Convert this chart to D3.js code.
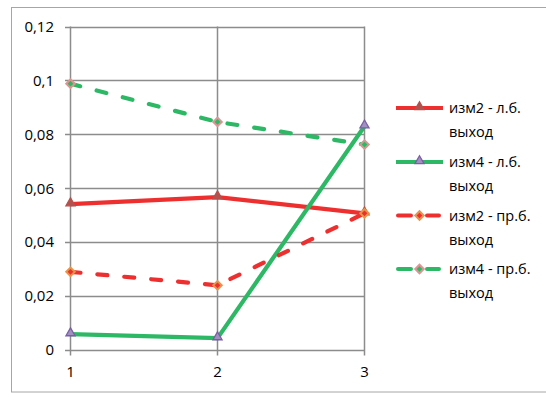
<!DOCTYPE html>
<html>
<head>
<meta charset="utf-8">
<script src="https://cdn.jsdelivr.net/npm/d3@7"></script>
<style>
  html, body { margin: 0; padding: 0; background: #fff; }
  svg { display: block; }
  text { font-family: "Open Sans", "Noto Sans", sans-serif; fill: #000; }
</style>
</head>
<body>
<svg id="chart" width="546" height="394"></svg>
<script>
// Measurement points along the x axis
const categories = [1, 2, 3];

// Series values
const izm2Left  = [0.0541, 0.0567, 0.0507];
const izm4Left  = [0.0059, 0.0044, 0.0830];
const izm2Right = [0.0290, 0.0240, 0.0507];
const izm4Right = [0.0988, 0.0846, 0.0762];

const seriesNames = [
  ["изм2 - л.б.", "выход"],
  ["изм4 - л.б.", "выход"],
  ["изм2 - пр.б.", "выход"],
  ["изм4 - пр.б.", "выход"]
];

// Y tick values and their labels
const yTicks = [0, 0.02, 0.04, 0.06, 0.08, 0.1, 0.12];
const yTickLabels = ["0", "0,02", "0,04", "0,06", "0,08", "0,1", "0,12"];

const series = [
  { name: seriesNames[0], values: izm2Left,  color: "#ee2f2f", dashed: false, marker: "triangle", mFill: "#b5514d", mStroke: "#b5514d" },
  { name: seriesNames[1], values: izm4Left,  color: "#2db865", dashed: false, marker: "triangle", mFill: "#a090c0", mStroke: "#7b5fa5" },
  { name: seriesNames[2], values: izm2Right, color: "#ee2f2f", dashed: true,  marker: "diamond",  mFill: "#ee2f2f", mStroke: "#e8944a" },
  { name: seriesNames[3], values: izm4Right, color: "#2db865", dashed: true,  marker: "diamond",  mFill: "#2db865", mStroke: "#d99694" }
];

const svg = d3.select("#chart");

// Chart frame
svg.append("rect")
  .attr("x", 11.5).attr("y", 7.5)
  .attr("width", 560).attr("height", 384.5)
  .attr("fill", "#fff").attr("stroke", "#a6a6a6").attr("stroke-width", 1);

const x = d3.scalePoint().domain(categories).range([70.5, 364.5]);
const y = d3.scaleLinear().domain([0, 0.12]).range([350, 26.5]);

const grid = svg.append("g");

// Horizontal gridlines with left tick stubs
grid.selectAll("line.h").data(yTicks).join("line")
  .attr("x1", 65).attr("x2", x(3))
  .attr("y1", d => Math.round(y(d)) + 0.5).attr("y2", d => Math.round(y(d)) + 0.5)
  .attr("stroke", "#8c8c8c").attr("stroke-width", 1.5);

// Vertical gridlines per category with bottom tick stubs
grid.selectAll("line.v").data(categories).join("line")
  .attr("x1", d => x(d)).attr("x2", d => x(d))
  .attr("y1", y(0.12)).attr("y2", 355.5)
  .attr("stroke", "#8c8c8c").attr("stroke-width", 1.5);

// Y axis labels
svg.append("g").selectAll("text").data(yTicks).join("text")
  .attr("x", 54).attr("y", d => y(d))
  .attr("dy", "0.35em")
  .attr("text-anchor", "end")
  .attr("font-size", 15)
  .text((d, i) => yTickLabels[i]);

// X axis labels
svg.append("g").selectAll("text").data(categories).join("text")
  .attr("x", d => x(d)).attr("y", 372)
  .attr("dy", "0.35em")
  .attr("text-anchor", "middle")
  .attr("font-size", 15)
  .text(d => d);

const line = d3.line().x((d, i) => x(categories[i])).y(d => y(d));

const triangle = d3.symbol().type(d3.symbolTriangle).size(36);
const diamond = d3.symbol().type(d3.symbolSquare).size(36);

function drawMarker(g, s, cx, cy) {
  if (s.marker === "triangle") {
    g.append("path").attr("d", triangle())
      .attr("transform", `translate(${cx},${cy - 1})`)
      .attr("fill", s.mFill).attr("stroke", s.mStroke).attr("stroke-width", 1.3);
  } else {
    g.append("path").attr("d", diamond())
      .attr("transform", `translate(${cx},${cy}) rotate(45)`)
      .attr("fill", s.mFill).attr("stroke", s.mStroke).attr("stroke-width", 2);
  }
}

// Series lines and markers
const plot = svg.append("g");
series.forEach(s => {
  plot.append("path").datum(s.values)
    .attr("d", line)
    .attr("fill", "none")
    .attr("stroke", s.color)
    .attr("stroke-width", 4.2)
    .attr("stroke-linecap", s.dashed ? "round" : "butt")
    .attr("stroke-dasharray", s.dashed ? "10,17" : null);
});
series.forEach(s => {
  const g = plot.append("g");
  s.values.forEach((v, i) => drawMarker(g, s, x(categories[i]), y(v)));
});

// Legend
const legendY = [108, 162, 215.5, 269];
const legend = svg.append("g");
series.forEach((s, i) => {
  const ly = legendY[i];
  const g = legend.append("g");
  if (s.dashed) {
    g.append("line").attr("x1", 398).attr("x2", 411).attr("y1", ly).attr("y2", ly)
      .attr("stroke", s.color).attr("stroke-width", 4).attr("stroke-linecap", "round");
    g.append("line").attr("x1", 427).attr("x2", 439).attr("y1", ly).attr("y2", ly)
      .attr("stroke", s.color).attr("stroke-width", 4).attr("stroke-linecap", "round");
  } else {
    g.append("line").attr("x1", 396).attr("x2", 443).attr("y1", ly).attr("y2", ly)
      .attr("stroke", s.color).attr("stroke-width", 4);
  }
  drawMarker(g, s, 419.5, ly);
  s.name.forEach((t, k) => {
    g.append("text")
      .attr("x", 449).attr("y", ly + k * 24)
      .attr("dy", "0.35em")
      .attr("font-size", 14.5)
      .text(t);
  });
});
</script>
</body>
</html>
